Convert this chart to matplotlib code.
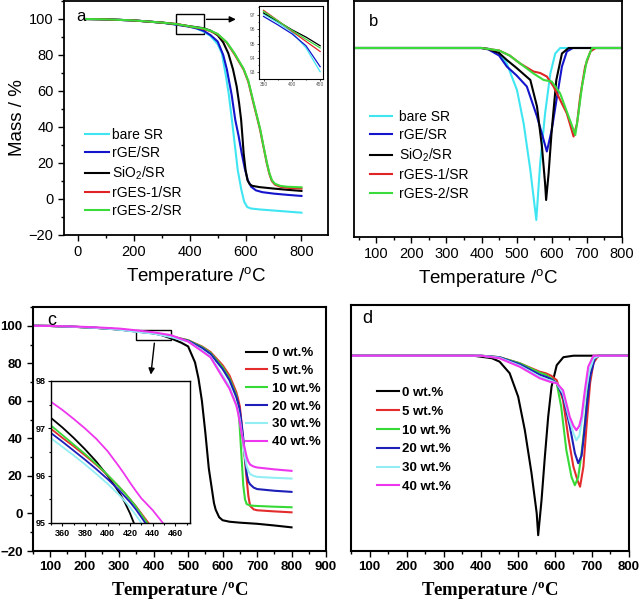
import matplotlib
matplotlib.use("Agg")
import matplotlib.pyplot as plt
from matplotlib.ticker import MultipleLocator
from matplotlib.patches import Rectangle

plt.rcParams['font.family'] = ['Liberation Sans', 'DejaVu Sans']
plt.rcParams['mathtext.fontset'] = 'custom'
plt.rcParams['mathtext.rm'] = 'Liberation Sans'
plt.rcParams['mathtext.bf'] = 'Liberation Serif:bold'
plt.rcParams['mathtext.default'] = 'rm'

# ---------------- Panel a : TGA ----------------
a_labels = ['bare SR', 'rGE/SR', 'SiO$_2$/SR', 'rGES-1/SR', 'rGES-2/SR']
a_colors = ['#3FE6F2', '#1414CC', '#000000', '#E02424', '#3ADB3A']

a_T_bare = [25, 100, 200, 300, 350, 375, 400, 425, 450, 475, 500, 515, 530, 540, 551, 560, 572, 585, 595, 606, 620, 650, 700, 750, 800]
a_M_bare = [100, 99.8, 99.2, 98.0, 97.05, 96.45, 95.75, 94.6, 93.05, 90.5, 86, 81, 68, 58, 44, 32, 16, 5, -1.5, -4.5, -5.3, -5.8, -6.4, -7.0, -7.6]
a_T_rge = [25, 100, 200, 300, 350, 375, 400, 425, 450, 475, 500, 520, 533, 550, 563, 575, 586, 597, 608, 620, 637, 660, 700, 750, 800]
a_M_rge = [100, 99.8, 99.2, 98.0, 96.88, 96.3, 95.7, 94.8, 93.4, 91, 87.5, 80, 72, 58, 44, 35, 25.5, 17, 10.4, 6.8, 4.8, 3.8, 3.0, 2.3, 1.7]
a_T_sio2 = [25, 100, 200, 300, 350, 375, 400, 425, 450, 475, 500, 520, 538, 555, 568, 577, 584, 589, 593, 600, 607, 615, 624, 650, 700, 750, 800]
a_M_sio2 = [100, 99.8, 99.2, 98.0, 97.15, 96.55, 95.95, 95.45, 94.85, 93.5, 91, 87, 81, 72, 62.6, 53, 44, 34, 25.5, 16, 10.4, 8.2, 7.3, 6.6, 5.8, 5.1, 4.5]
a_T_rges = [25, 100, 200, 300, 350, 375, 400, 425, 450, 475, 500, 533, 560, 593, 610, 628, 640, 652, 664, 676, 685, 694, 705, 724, 750, 800]
a_M_rges1 = [100, 99.8, 99.2, 98.0, 97.3, 96.6, 95.85, 95.15, 94.45, 93.2, 91.5, 86.8, 80.5, 71.9, 65, 53.3, 46, 38.4, 29, 19.8, 14, 10, 8, 6.8, 6.2, 5.8]
a_M_rges2 = [100, 99.8, 99.2, 98.0, 97.23, 96.57, 95.9, 95.3, 94.7, 93.4, 91.7, 87, 81, 72.3, 65.5, 54, 46.5, 39, 29.5, 20.3, 14.5, 10.5, 8.5, 7.3, 6.8, 6.5]

# ---------------- Panel b : DTG ----------------
b_T_bare = [35, 100, 200, 300, 400, 425, 450, 472, 501, 520, 539, 548, 556, 567, 581, 596, 610, 624, 650, 700, 800]
b_D_bare = [0, 0, 0, 0, 0, -0.02, -0.1, -0.31, -0.84, -1.51, -2.44, -2.97, -3.44, -2.31, -1.31, -0.51, -0.11, 0, 0, 0, 0]
b_T_rge = [35, 100, 200, 300, 400, 420, 450, 472, 500, 529, 558, 577, 586, 600, 615, 629, 643, 660, 700, 800]
b_D_rge = [0, 0, 0, 0, 0, -0.03, -0.15, -0.37, -0.55, -0.77, -1.37, -1.84, -2.07, -1.64, -0.97, -0.37, -0.07, 0, 0, 0]
b_T_sio2 = [35, 100, 200, 300, 400, 420, 450, 472, 500, 539, 558, 572, 581, 584, 591, 600, 613, 629, 648, 700, 800]
b_D_sio2 = [0, 0, 0, 0, 0, -0.02, -0.1, -0.24, -0.4, -0.64, -1.17, -1.97, -2.71, -3.04, -2.51, -1.64, -0.64, -0.11, 0, 0, 0]
b_T_rges1 = [35, 100, 200, 300, 400, 450, 480, 510, 548, 567, 586, 605, 624, 643, 653, 662, 672, 681, 695, 710, 725, 800]
b_D_rges1 = [0, 0, 0, 0, 0, -0.05, -0.15, -0.31, -0.47, -0.5, -0.57, -0.77, -1.04, -1.31, -1.55, -1.77, -1.51, -0.97, -0.37, -0.07, 0, 0]
b_T_rges2 = [35, 100, 200, 300, 400, 450, 480, 510, 548, 577, 600, 624, 648, 660, 667, 676, 686, 700, 715, 800]
b_D_rges2 = [0, 0, 0, 0, 0, -0.05, -0.15, -0.31, -0.51, -0.64, -0.67, -0.91, -1.37, -1.6, -1.74, -1.31, -0.77, -0.24, 0, 0]

# ---------------- Panel c : TGA by loading ----------------
c_labels = ['0 wt.%', '5 wt.%', '10 wt.%', '20 wt.%', '30 wt.%', '40 wt.%']
c_colors = ['#000000', '#E42C2C', '#36D936', '#1E1EB8', '#93EEF4', '#EE36EE']

c_T_0 = [50, 100, 150, 200, 250, 300, 350, 400, 420, 450, 480, 500, 520, 530, 540, 550, 560, 575, 580, 590, 600, 620, 650, 700, 750, 800]
c_M_0 = [100, 99.9, 99.6, 99.2, 98.7, 98.1, 97.22, 96.0, 95.2, 93.3, 91, 89, 80.5, 72, 60, 43, 24, 5.5, 2, -2, -3.6, -4.4, -4.9, -5.5, -6.4, -7.4]
c_T = [50, 100, 150, 200, 250, 300, 350, 400, 450, 500, 540, 565, 600, 620, 640, 645, 650, 655, 660, 665, 670, 675, 680, 690, 700, 750, 800]
c_M_5 = [100, 99.9, 99.6, 99.2, 98.7, 98.0, 96.99, 96.01, 94.4, 92.3, 89, 86, 79, 73.5, 64.5, 61, 57, 48, 38, 28, 18, 9, 4, 2.2, 1.7, 1.1, 0.6]
c_M_10 = [100, 99.9, 99.6, 99.2, 98.7, 98.0, 97.06, 96.02, 94.4, 92.2, 88.7, 85.5, 78, 72, 63, 58, 45, 30, 15, 7.5, 5, 4.6, 4.3, 4.1, 4.0, 3.6, 3.3]
c_M_20 = [100, 99.9, 99.6, 99.2, 98.7, 98.0, 96.9, 95.93, 94.2, 92.0, 88.2, 85, 77, 71, 62, 59, 55, 48, 40, 30, 21, 17, 15.5, 13.8, 13, 12.1, 11.5]
c_M_30 = [100, 99.9, 99.6, 99.2, 98.7, 97.9, 96.79, 95.83, 94.0, 91.6, 87, 83.5, 73.5, 67.5, 58, 54.5, 50, 43.5, 37, 30, 25, 22.5, 21, 20, 19.5, 19, 18.6]
c_M_40 = [100, 99.9, 99.7, 99.4, 99.0, 98.5, 97.56, 96.5, 95.0, 91.6, 86.5, 83.2, 72.5, 66.5, 57.5, 53.5, 48.5, 43, 38, 34, 30, 27.5, 26, 25, 24.5, 23.5, 22.7]

# inset c (zoom 350-460 degC)
ci_T = [350, 360, 370, 380, 390, 400, 410, 415, 420, 425, 430, 440, 450, 460]
ci_M_0 = [97.22, 97.02, 96.80, 96.56, 96.30, 96.00, 95.66, 95.45, 95.2, 94.9, 94.55, 93.8, 93.3, 92.8]
ci_M_5 = [96.99, 96.80, 96.62, 96.43, 96.23, 96.01, 95.77, 95.64, 95.5, 95.36, 95.2, 94.88, 94.4, 94.0]
ci_M_10 = [97.06, 96.86, 96.66, 96.46, 96.25, 96.02, 95.77, 95.64, 95.5, 95.35, 95.18, 94.83, 94.4, 94.0]
ci_M_20 = [96.90, 96.72, 96.53, 96.34, 96.14, 95.93, 95.70, 95.57, 95.44, 95.29, 95.12, 94.77, 94.2, 93.8]
ci_M_30 = [96.79, 96.61, 96.43, 96.24, 96.04, 95.83, 95.60, 95.47, 95.33, 95.17, 95.0, 94.62, 94.0, 93.6]
ci_M_40 = [97.56, 97.39, 97.20, 97.00, 96.78, 96.52, 96.20, 96.03, 95.85, 95.68, 95.52, 95.27, 94.97, 94.6]

# inset a (zoom 350-450 degC)
ai_T = [350, 375, 400, 425, 450]
ai_M_bare = [97.05, 96.45, 95.8, 94.7, 93.05]
ai_M_rge = [96.88, 96.3, 95.68, 94.85, 93.4]
ai_M_sio2 = [97.12, 96.55, 95.96, 95.45, 94.85]
ai_M_rges1 = [97.3, 96.6, 95.86, 95.15, 94.45]
ai_M_rges2 = [97.23, 96.58, 95.92, 95.3, 94.7]

# ---------------- Panel d : DTG by loading ----------------
d_T_0 = [50, 100, 200, 300, 380, 400, 430, 451, 478, 501, 519, 537, 551, 555, 564, 573, 582, 591, 605, 623, 650, 700, 800]
d_D_0 = [0, 0, 0, 0, 0, -0.02, -0.05, -0.12, -0.35, -0.82, -1.49, -2.35, -3.15, -3.59, -2.89, -2.02, -1.22, -0.62, -0.19, -0.03, 0, 0, 0]
d_T_5 = [50, 200, 400, 450, 505, 559, 575, 590, 605, 622, 636, 650, 661, 668, 677, 686, 695, 704, 717, 800]
d_D_5 = [0, 0, 0, -0.03, -0.15, -0.32, -0.35, -0.4, -0.49, -0.89, -1.62, -2.22, -2.49, -2.62, -2.22, -1.35, -0.55, -0.15, 0, 0]
d_T_10 = [50, 200, 400, 450, 505, 559, 575, 590, 605, 617, 631, 645, 654, 663, 672, 681, 690, 704, 720, 800]
d_D_10 = [0, 0, 0, -0.03, -0.15, -0.34, -0.38, -0.45, -0.55, -1.02, -1.89, -2.43, -2.59, -2.43, -1.95, -1.35, -0.62, -0.06, 0, 0]
d_T_20 = [50, 200, 400, 450, 505, 559, 575, 590, 605, 622, 640, 654, 663, 672, 677, 686, 695, 708, 720, 800]
d_D_20 = [0, 0, 0, -0.03, -0.17, -0.38, -0.42, -0.47, -0.55, -0.82, -1.4, -1.95, -2.15, -2.0, -1.69, -1.02, -0.42, -0.05, 0, 0]
d_T_30 = [50, 200, 400, 450, 505, 559, 575, 590, 605, 622, 640, 650, 658, 666, 675, 684, 693, 705, 720, 800]
d_D_30 = [0, 0, 0, -0.04, -0.2, -0.42, -0.47, -0.5, -0.55, -0.75, -1.3, -1.55, -1.69, -1.6, -1.2, -0.7, -0.3, -0.05, 0, 0]
d_T_40 = [50, 200, 400, 450, 505, 559, 586, 605, 622, 640, 650, 658, 666, 672, 681, 690, 704, 800]
d_D_40 = [0, 0, 0, -0.05, -0.22, -0.45, -0.52, -0.55, -0.69, -1.22, -1.4, -1.49, -1.4, -1.22, -0.69, -0.22, 0, 0]

W, H = 642, 603
fig = plt.figure(figsize=(W / 100, H / 100), dpi=100)


def rect(x0, y0, x1, y1):
    return [x0 / W, 1 - y1 / H, (x1 - x0) / W, (y1 - y0) / H]


def style(ax, lw=1.3):
    for s in ax.spines.values():
        s.set_linewidth(lw)
    ax.tick_params(which='both', direction='out', top=False, right=False, width=1.0)
    ax.tick_params(which='major', length=4)
    ax.tick_params(which='minor', length=2.5)


# ---- a ----
axa = fig.add_axes(rect(64, 1, 328, 235))
style(axa)
a_series = [(a_T_bare, a_M_bare), (a_T_rge, a_M_rge), (a_T_sio2, a_M_sio2),
            (a_T_rges, a_M_rges1), (a_T_rges, a_M_rges2)]
for (t, m), lab, col in zip(a_series, a_labels, a_colors):
    axa.plot(t, m, color=col, lw=1.5, label=lab)
axa.set_xlim(-50, 895)
axa.set_ylim(-20, 110)
axa.xaxis.set_major_locator(MultipleLocator(200))
axa.xaxis.set_minor_locator(MultipleLocator(100))
axa.yaxis.set_major_locator(MultipleLocator(20))
axa.yaxis.set_minor_locator(MultipleLocator(10))
axa.set_yticks([-20, 0, 20, 40, 60, 80, 100])
axa.tick_params(labelsize=10.5)
axa.set_xlabel('Temperature /$^\\mathrm{o}$C', fontsize=13.5, labelpad=4)
axa.set_ylabel('Mass / %', fontsize=13.5, labelpad=2)
axa.text(0.045, 0.935, 'a', transform=axa.transAxes, fontsize=12, va='center')
axa.legend(loc='upper left', bbox_to_anchor=(0.08, 0.457), frameon=False, fontsize=10,
           handlelength=1.7, handletextpad=0.25, labelspacing=0.3, borderpad=0, borderaxespad=0)
axa.add_patch(Rectangle((350, 91.5), 100, 11, fill=False, lw=1.0, ec='black'))
axa.annotate('', xy=(575, 99.8), xytext=(450, 99.8),
             arrowprops=dict(arrowstyle='-|>', color='black', lw=1.0, mutation_scale=9))

# inset a
axai = fig.add_axes(rect(259, 6, 323, 79))
for s in axai.spines.values():
    s.set_linewidth(0.8)
for (m, col) in zip([ai_M_bare, ai_M_rge, ai_M_sio2, ai_M_rges1, ai_M_rges2], a_colors):
    axai.plot(ai_T, m, color=col, lw=0.9)
axai.set_xlim(342, 455)
axai.set_ylim(92.55, 97.6)
axai.set_xticks([350, 400, 450])
axai.xaxis.set_minor_locator(MultipleLocator(25))
axai.set_yticks([93, 94, 95, 96, 97])
axai.yaxis.set_minor_locator(MultipleLocator(0.5))
axai.tick_params(which='both', direction='out', labelsize=3.5, width=0.5, pad=1, labelcolor='#555555')
axai.tick_params(which='major', length=1.5)
axai.tick_params(which='minor', length=1)

# ---- b ----
axb = fig.add_axes(rect(354, 1, 622, 237))
style(axb)
b_series = [(b_T_bare, b_D_bare), (b_T_rge, b_D_rge), (b_T_sio2, b_D_sio2),
            (b_T_rges1, b_D_rges1), (b_T_rges2, b_D_rges2)]
for (t, d), lab, col in zip(b_series, a_labels, a_colors):
    axb.plot(t, d, color=col, lw=1.5, label=lab)
axb.set_xlim(37, 800)
axb.set_ylim(-3.78, 0.94)
axb.set_xticks([100, 200, 300, 400, 500, 600, 700, 800])
axb.xaxis.set_minor_locator(MultipleLocator(50))
axb.set_yticks([])
axb.tick_params(labelsize=10.5)
axb.set_xlabel('Temperature /$^\\mathrm{o}$C', fontsize=13.5, labelpad=4)
axb.text(0.055, 0.915, 'b', transform=axb.transAxes, fontsize=12, va='center')
axb.legend(loc='upper left', bbox_to_anchor=(0.06, 0.54), frameon=False, fontsize=10,
           handlelength=1.6, handletextpad=0.5, labelspacing=0.32, borderpad=0, borderaxespad=0)

# ---- c ----
axc = fig.add_axes(rect(33, 307, 326, 551))
style(axc, lw=1.5)
c_series = [(c_T_0, c_M_0), (c_T, c_M_5), (c_T, c_M_10), (c_T, c_M_20), (c_T, c_M_30), (c_T, c_M_40)]
for (t, m), lab, col in zip(c_series, c_labels, c_colors):
    axc.plot(t, m, color=col, lw=1.5, label=lab)
axc.set_xlim(50, 900)
axc.set_ylim(-20, 110)
axc.set_xticks([100, 200, 300, 400, 500, 600, 700, 800, 900])
axc.xaxis.set_minor_locator(MultipleLocator(50))
axc.set_yticks([-20, 0, 20, 40, 60, 80, 100])
axc.yaxis.set_minor_locator(MultipleLocator(10))
axc.tick_params(labelsize=9.5)
for lab in axc.get_xticklabels() + axc.get_yticklabels():
    lab.set_fontweight('bold')
axc.set_xlabel('Temperature /$^\\mathbf{o}$C', fontsize=13.5, fontweight='bold',
               family=['Liberation Serif', 'DejaVu Serif'], labelpad=5)
axc.text(0.05, 0.945, 'c', transform=axc.transAxes, fontsize=13, va='center')
axc.legend(loc='upper left', bbox_to_anchor=(0.728, 0.836), frameon=False,
           prop={'size': 9.5, 'weight': 'bold'},
           handlelength=1.6, handletextpad=0.35, labelspacing=0.42, borderpad=0, borderaxespad=0)
axc.add_patch(Rectangle((350, 92.2), 100, 5.8, fill=False, lw=1.0, ec='black'))
axc.annotate('', xy=(391, 72.5), xytext=(403, 92.2),
             arrowprops=dict(arrowstyle='-|>', color='black', lw=1.0, mutation_scale=9))

# inset c
axci = fig.add_axes(rect(51, 381, 190, 523))
for s in axci.spines.values():
    s.set_linewidth(1.0)
ci_series = [ci_M_0, ci_M_5, ci_M_10, ci_M_20, ci_M_30, ci_M_40]
for m, col in zip(ci_series, c_colors):
    axci.plot(ci_T, m, color=col, lw=1.3)
axci.set_xlim(350, 473)
axci.set_ylim(95, 98)
axci.set_xticks([360, 380, 400, 420, 440, 460])
axci.xaxis.set_minor_locator(MultipleLocator(10))
axci.set_yticks([95, 96, 97, 98])
axci.yaxis.set_minor_locator(MultipleLocator(0.5))
axci.tick_params(which='both', direction='out', labelsize=6.5, width=0.8, pad=1.5)
axci.tick_params(which='major', length=2.5)
axci.tick_params(which='minor', length=1.5)
for lab in axci.get_xticklabels() + axci.get_yticklabels():
    lab.set_fontweight('bold')

# ---- d ----
axd = fig.add_axes(rect(351, 305, 629, 551))
style(axd, lw=1.5)
d_series = [(d_T_0, d_D_0), (d_T_5, d_D_5), (d_T_10, d_D_10), (d_T_20, d_D_20), (d_T_30, d_D_30), (d_T_40, d_D_40)]
for (t, d), lab, col in zip(d_series, c_labels, c_colors):
    axd.plot(t, d, color=col, lw=1.5, label=lab)
axd.set_xlim(50, 800)
axd.set_ylim(-3.906, 1.014)
axd.set_xticks([100, 200, 300, 400, 500, 600, 700, 800])
axd.xaxis.set_minor_locator(MultipleLocator(50))
axd.set_yticks([])
axd.tick_params(labelsize=9.5)
for lab in axd.get_xticklabels():
    lab.set_fontweight('bold')
axd.set_xlabel('Temperature /$^\\mathbf{o}$C', fontsize=13.5, fontweight='bold',
               family=['Liberation Serif', 'DejaVu Serif'], labelpad=5)
axd.text(0.04, 0.945, 'd', transform=axd.transAxes, fontsize=13, va='center')
axd.legend(loc='upper left', bbox_to_anchor=(0.095, 0.668), frameon=False,
           prop={'size': 9.5, 'weight': 'bold'},
           handlelength=1.6, handletextpad=0.25, labelspacing=0.5, borderpad=0, borderaxespad=0)

fig.savefig('out.png', dpi=100)
